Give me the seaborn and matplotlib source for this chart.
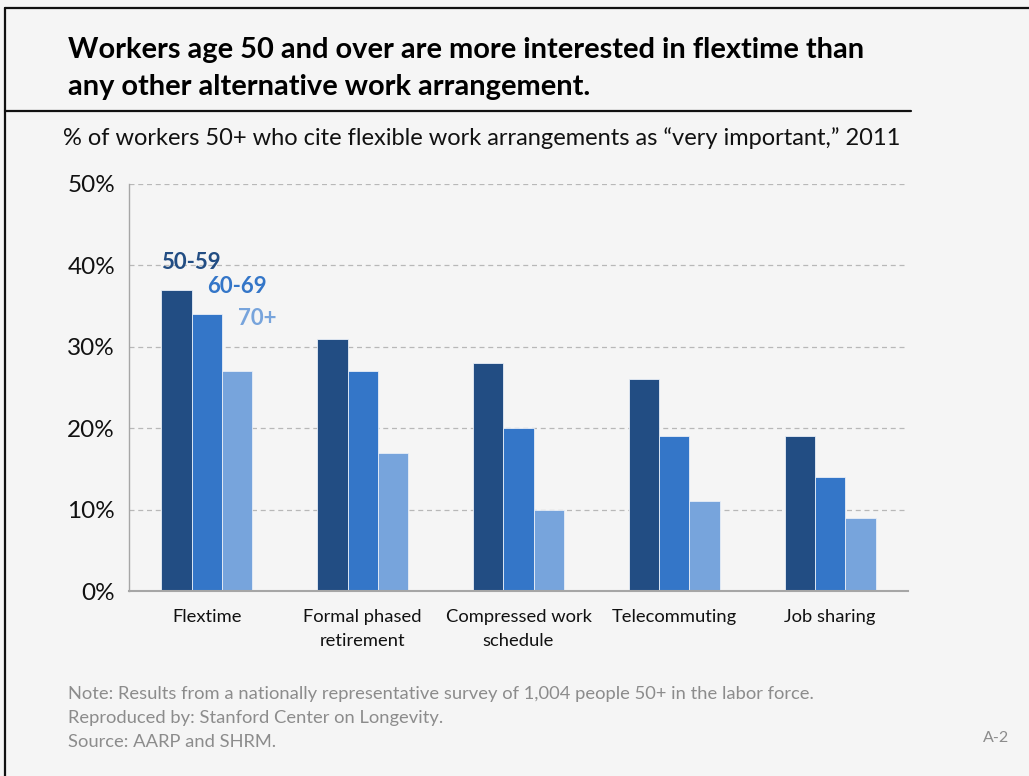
import matplotlib
matplotlib.use("Agg")
import matplotlib.pyplot as plt
from matplotlib.lines import Line2D
import seaborn as sns
import pandas as pd

# Survey results (% citing each arrangement as "very important")
categories = ["Flextime", "Formal phased\nretirement", "Compressed work\nschedule",
              "Telecommuting", "Job sharing"]
age_groups = ["50-59", "60-69", "70+"]
values_50_59 = [37, 31, 28, 26, 19]
values_60_69 = [34, 27, 20, 19, 14]
values_70_plus = [27, 17, 10, 11, 9]
y_ticks = [0, 10, 20, 30, 40, 50]

colors = ["#224d83", "#3476c8", "#77a4dc"]
bg = "#f5f5f5"

rows = []
for grp, vals in zip(age_groups, [values_50_59, values_60_69, values_70_plus]):
    for cat, v in zip(categories, vals):
        rows.append({"category": cat, "age": grp, "pct": v})
df = pd.DataFrame(rows)

sns.set_theme(style="white")
plt.rcParams["font.family"] = ["Lato", "DejaVu Sans"]

W, H = 1029, 776
fig = plt.figure(figsize=(W / 100, H / 100), dpi=100, facecolor=bg)
ax = fig.add_axes([129 / W, 1 - 591 / H, (908 - 129) / W, (591 - 184) / H])
ax.set_facecolor(bg)

sns.barplot(data=df, x="category", y="pct", hue="age", order=categories,
            hue_order=age_groups, palette=colors, saturation=1, width=0.585, gap=0,
            edgecolor="#e8eef7", linewidth=0.6, legend=False, ax=ax)

ax.set_ylim(0, 50)
ax.set_xlim(-0.5, len(categories) - 0.5)
ax.set_yticks(y_ticks)
ax.set_yticklabels([f"{t}%" for t in y_ticks], fontsize=17.5, color="#111111")
ax.tick_params(axis="y", length=0, pad=10)
ax.tick_params(axis="x", length=0, pad=13, labelsize=13.2, labelcolor="#111111")
for lbl in ax.get_xticklabels():
    lbl.set_linespacing(1.6)
ax.set_xlabel("")
ax.set_ylabel("")
ax.yaxis.grid(True, linestyle=(0, (4, 3)), color="#b8b8b8", linewidth=0.9)
ax.set_axisbelow(True)
for side in ["top", "right"]:
    ax.spines[side].set_visible(False)
ax.spines["left"].set_color("#a6a6a6")
ax.spines["bottom"].set_color("#a6a6a6")
ax.spines["left"].set_linewidth(1.0)
ax.spines["bottom"].set_linewidth(1.5)

# Series labels placed above the first group of bars
label_y = [40.4, 37.35, 33.5]
label_shift = [0.0, 0.1, 0.1]
for container, grp, col, ly, dx in zip(ax.containers, age_groups, colors, label_y, label_shift):
    bar = container.patches[0]
    ax.text(bar.get_x() + dx, ly, grp, color=col, fontsize=16, fontweight="bold",
            ha="left", va="center")

# Title block
fig.text(68 / W, 1 - 50 / H, "Workers age 50 and over are more interested in flextime than",
         fontsize=20.9, fontweight="bold", color="#000000", va="center", ha="left")
fig.text(68 / W, 1 - 87 / H, "any other alternative work arrangement.",
         fontsize=20.9, fontweight="bold", color="#000000", va="center", ha="left")
fig.text(63 / W, 1 - 138 / H,
         "% of workers 50+ who cite flexible work arrangements as \u201cvery important,\u201d 2011",
         fontsize=17, color="#111111", va="center", ha="left")

# Frame lines
fig.add_artist(Line2D([4.5 / W, 4.5 / W], [0, 1 - 7.5 / H], color="#111111", lw=1.6,
                      transform=fig.transFigure))
fig.add_artist(Line2D([4.5 / W, 1], [1 - 7.5 / H, 1 - 7.5 / H], color="#111111", lw=1.6,
                      transform=fig.transFigure))
fig.add_artist(Line2D([4.5 / W, 911 / W], [1 - 111 / H, 1 - 111 / H], color="#111111", lw=1.6,
                      transform=fig.transFigure))

# Notes
notes = ["Note: Results from a nationally representative survey of 1,004 people 50+ in the labor force.",
         "Reproduced by: Stanford Center on Longevity.",
         "Source: AARP and SHRM."]
for i, line in enumerate(notes):
    fig.text(68 / W, 1 - (694 + 24 * i) / H, line, fontsize=13.2, color="#8c8c8c",
             va="center", ha="left")
fig.text(983 / W, 1 - 738 / H, "A-2", fontsize=11.5, color="#8c8c8c", va="center", ha="left")

fig.savefig("out.png", dpi=100, facecolor=bg)
